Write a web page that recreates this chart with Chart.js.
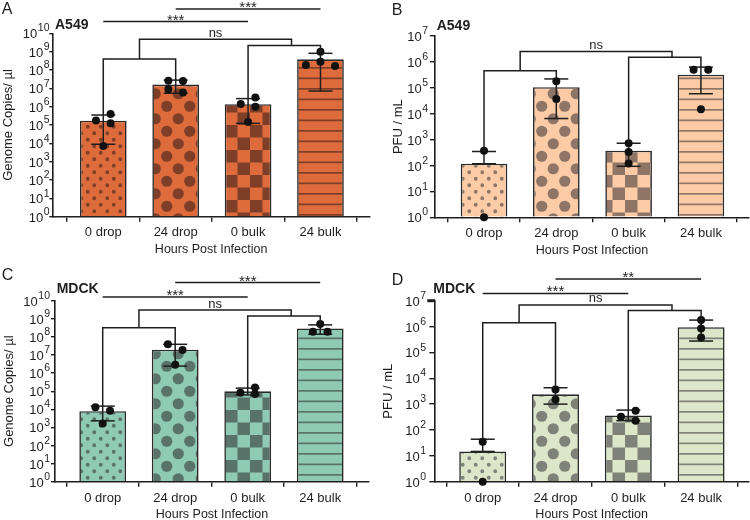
<!DOCTYPE html>
<html>
<head>
<meta charset="utf-8">
<script src="https://cdn.jsdelivr.net/npm/chart.js@4.4.1/dist/chart.umd.min.js"></script>
<style>
    body { margin: 0; background: #fff; }
    #wrap { position: relative; width: 750px; height: 520px; }
    .panel { position: absolute; width: 375px; height: 260px; }
</style>
</head>
<body>
<div id="wrap">
    <div class="panel" style="left:0;top:0"><canvas id="chartA" width="375" height="260"></canvas></div>
    <div class="panel" style="left:375px;top:0"><canvas id="chartB" width="375" height="260"></canvas></div>
    <div class="panel" style="left:0;top:260px"><canvas id="chartC" width="375" height="260"></canvas></div>
    <div class="panel" style="left:375px;top:260px"><canvas id="chartD" width="375" height="260"></canvas></div>
</div>
<script>
'use strict';

let groups = ['0 drop', '24 drop', '0 bulk', '24 bulk'];
let copiesExp = [0, 1, 2, 3, 4, 5, 6, 7, 8, 9, 10];
let pfuExp = [0, 1, 2, 3, 4, 5, 6, 7];

// A549 - genome copies / ul
let a549CopiesMean = [1.7e5, 1.6e7, 1.35e6, 3.8e8];
let a549CopiesLow = [8.9e3, 5.4e6, 1.23e5, 7.1e6];
let a549CopiesHigh = [3.5e5, 2.8e7, 2.75e6, 8.1e8];
let a549CopiesDots = [[4.0e5, 1.74e5, 1.23e5, 7.1e3], [2.5e7, 2.6e7, 6.0e6, 8.9e6], [1.4e6, 3.2e6, 1.0e6, 1.45e5], [1.66e8, 1.0e9, 2.8e8, 1.86e8]];

// A549 - PFU / mL
let a549PfuMean = [117, 1.05e5, 372, 3.2e5];
let a549PfuLow = [117, 6.5e3, 93, 5.9e4];
let a549PfuHigh = [347, 2.2e5, 724, 6.3e5];
let a549PfuDots = [[370, 1], [1.8e5, 3.7e4], [724, 331, 120], [5.0e5, 5.0e5, 1.5e4]];

// MDCK - genome copies / ul
let mdckCopiesMean = [7.8e3, 1.95e7, 9.8e4, 2.95e8];
let mdckCopiesLow = [2.3e3, 2.45e6, 6.2e4, 1.4e8];
let mdckCopiesHigh = [1.5e4, 3.9e7, 1.48e5, 4.6e8];
let mdckCopiesDots = [[1.29e4, 8.3e3, 1.66e3], [3.9e7, 1.86e7, 2.9e6], [1.62e5, 6.9e4, 8.3e4], [5.1e8, 1.95e8, 1.95e8]];

// MDCK - PFU / mL
let mdckPfuMean = [14.8, 2.4e3, 363, 9.5e5];
let mdckPfuLow = [14.8, 1.0e3, 229, 2.75e5];
let mdckPfuHigh = [44, 4.3e3, 589, 1.78e6];
let mdckPfuDots = [[35, 1], [3.7e3, 1.5e3], [550, 324, 229], [1.78e6, 8.5e5, 3.8e5]];

let family = '"Liberation Sans", Arial, Helvetica, sans-serif';
let ink = '#1e1e1e';
Chart.defaults.font.family = family;
Chart.defaults.color = ink;

let panels = [
    {
        id: 'chartA', letter: 'A', letterPos: [1.7, 13.5], cell: 'A549', cellPos: [55, 28.5],
        yTitle: 'Genome Copies/ \u00b5l', yTitleX: 8,
        exps: copiesExp, mean: a549CopiesMean, low: a549CopiesLow, high: a549CopiesHigh, dots: a549CopiesDots,
        base: '#de6b3c', dark: '#7e3e27',
        area: { left: 52.3, top: 33.3, right: 370, bottom: 216.7 }, xMin: -0.704, xMax: 3.684,
        labelRight: 49.5, tickLen: 3, xPad: 3, boldTop: false,
        ns: [8.6, 9.33, 9.67],
        stars: [{ from: 0, to: 2, level: 10.64, text: '***' }, { from: 1, to: 3, level: 11.33, text: '***' }]
    },
    {
        id: 'chartB', letter: 'B', letterPos: [16.7, 15], cell: 'A549', cellPos: [61.7, 30],
        yTitle: 'PFU / mL', yTitleX: 23.5,
        exps: pfuExp, mean: a549PfuMean, low: a549PfuLow, high: a549PfuHigh, dots: a549PfuDots,
        base: '#fdcba6', dark: '#8e7566',
        area: { left: 60, top: 36, right: 374, bottom: 217.3 }, xMin: -0.678, xMax: 3.665,
        labelRight: 53, tickLen: 5, xPad: 3, boldTop: false,
        ns: [5.66, 6.18, 6.40],
        stars: []
    },
    {
        id: 'chartC', letter: 'C', letterPos: [1.7, 20], cell: 'MDCK', cellPos: [56.7, 33.3],
        yTitle: 'Genome Copies/ \u00b5l', yTitleX: 9,
        exps: copiesExp, mean: mdckCopiesMean, low: mdckCopiesLow, high: mdckCopiesHigh, dots: mdckCopiesDots,
        base: '#8fcab4', dark: '#5a736a',
        area: { left: 55, top: 40.7, right: 369, bottom: 221.7 }, xMin: -0.658, xMax: 3.673,
        labelRight: 50, tickLen: 4, xPad: 4, boldTop: false,
        ns: [8.51, 9.15, 9.48],
        stars: [{ from: 0, to: 2, level: 10.2, text: '***' }, { from: 1, to: 3, level: 11.0, text: '***' }]
    },
    {
        id: 'chartD', letter: 'D', letterPos: [16.7, 24.5], cell: 'MDCK', cellPos: [58.3, 33.3],
        yTitle: 'PFU / mL', yTitleX: 13.5,
        exps: pfuExp, mean: mdckPfuMean, low: mdckPfuLow, high: mdckPfuHigh, dots: mdckPfuDots,
        base: '#dce6c9', dark: '#7f8278',
        area: { left: 59.3, top: 40.7, right: 374, bottom: 221.7 }, xMin: -0.665, xMax: 3.658,
        labelRight: 51, tickLen: 5, xPad: 4, boldTop: true,
        ns: [6.15, 6.62, 6.83],
        stars: [{ from: 0, to: 2, level: 7.28, text: '***' }, { from: 1, to: 3, level: 7.84, text: '**' }]
    }
];

function makePattern(kind, base, dark) {
    let tile = document.createElement('canvas');
    let c = tile.getContext('2d');
    let w, h;
    if (kind === 'dots') { w = 13; h = 13; }
    else if (kind === 'circles') { w = 23; h = 25; }
    else if (kind === 'checker') { w = 25; h = 25; }
    else { w = 4; h = 21; }
    tile.width = w;
    tile.height = h;
    c.fillStyle = base;
    c.fillRect(0, 0, w, h);
    c.fillStyle = dark;
    if (kind === 'dots') {
        c.beginPath();
        c.arc(3.25, 3.25, 1.9, 0, Math.PI * 2);
        c.arc(9.75, 9.75, 1.9, 0, Math.PI * 2);
        c.fill();
    } else if (kind === 'circles') {
        c.beginPath();
        c.arc(5.75, 6.25, 5.6, 0, Math.PI * 2);
        c.fill();
        c.beginPath();
        c.arc(17.25, 18.75, 5.6, 0, Math.PI * 2);
        c.fill();
    } else if (kind === 'checker') {
        c.fillRect(0, 0, 12.5, 12.5);
        c.fillRect(12.5, 12.5, 12.5, 12.5);
    } else {
        c.fillRect(0, 4, w, 1.7);
        c.fillRect(0, 14.5, w, 1.7);
    }
    return c.createPattern(tile, 'repeat');
}

// spread the dots of one group sideways so they don't sit on top of each other
function swarm(vals, ys) {
    let S = 7.3;
    let pts = vals.map(v => ({ v: v, py: ys.getPixelForValue(v), dx: 0 }));
    let order = pts.slice().sort((a, b) => a.v - b.v);
    let placed = [];
    function clash(p, dx) {
        return placed.some(q => Math.abs(q.dx - dx) < 2 * S - 0.5 && Math.abs(q.py - p.py) < 6.65);
    }
    let i = 0;
    while (i < order.length) {
        let cl = [order[i]];
        let j = i + 1;
        while (j < order.length && order[i].py - order[j].py < 6.5) {
            cl.push(order[j]);
            j++;
        }
        if (cl.length === 1) {
            let cands = [0, S, -S, 2 * S, -2 * S, 3 * S, -3 * S];
            let found = cands.find(dx => !clash(cl[0], dx));
            cl[0].dx = found === undefined ? 0 : found;
        } else {
            cl.sort((a, b) => b.v - a.v);
            let n = cl.length;
            let slots = n === 3 ? [0, -2 * S, 2 * S] : cl.map((p, k) => (k - (n - 1) / 2) * 2 * S);
            cl.forEach((p, k) => { p.dx = slots[k]; });
        }
        placed.push(...cl);
        i = j;
    }
    return pts;
}

function line(ctx, pts) {
    ctx.beginPath();
    ctx.moveTo(pts[0][0], pts[0][1]);
    for (let k = 1; k < pts.length; k++) ctx.lineTo(pts[k][0], pts[k][1]);
    ctx.stroke();
}

function makeExtras(p) {
    return {
        id: 'extras',
        afterDraw(chart) {
            let ctx = chart.ctx;
            let xs = chart.scales.x;
            let ys = chart.scales.y;
            let area = chart.chartArea;
            let px = i => xs.getPixelForValue(i);
            let py = e => ys.getPixelForValue(Math.pow(10, e));
            ctx.save();
            ctx.strokeStyle = ink;
            ctx.fillStyle = ink;
            ctx.lineWidth = 1.5;
            ctx.lineCap = 'butt';

            // error bars
            for (let i = 0; i < groups.length; i++) {
                let x = px(i);
                let yh = ys.getPixelForValue(p.high[i]);
                let yl = ys.getPixelForValue(p.low[i]);
                line(ctx, [[x, yl], [x, yh]]);
                line(ctx, [[x - 12, yh], [x + 12, yh]]);
                line(ctx, [[x - 12, yl], [x + 12, yl]]);
            }

            // replicate dots
            ctx.fillStyle = '#111';
            for (let i = 0; i < groups.length; i++) {
                let x = px(i);
                swarm(p.dots[i], ys).forEach(d => {
                    ctx.beginPath();
                    ctx.arc(x + d.dx, d.py, 4, 0, Math.PI * 2);
                    ctx.fill();
                });
            }
            ctx.fillStyle = ink;

            // ns bracket
            let topOf = i => ys.getPixelForValue(p.high[i]);
            let yL = py(p.ns[0]);
            let yR = py(p.ns[1]);
            let yT = py(p.ns[2]);
            line(ctx, [[px(0), topOf(0)], [px(0), yL], [px(1), yL], [px(1), topOf(1)]]);
            line(ctx, [[px(2), topOf(2)], [px(2), yR], [px(3), yR], [px(3), topOf(3)]]);
            let cL = px(0) + 0.5 * (px(1) - px(0));
            let cR = px(2) + 0.6 * (px(3) - px(2));
            line(ctx, [[cL, yL], [cL, yT], [cR, yT], [cR, yR]]);
            ctx.font = '13px ' + family;
            ctx.textAlign = 'center';
            ctx.textBaseline = 'alphabetic';
            ctx.fillText('ns', (cL + cR) / 2, yT - 2.6);

            // significance lines
            p.stars.forEach(s => {
                let y = py(s.level);
                line(ctx, [[px(s.from), y], [px(s.to), y]]);
                ctx.font = '15px ' + family;
                ctx.fillText(s.text, (px(s.from) + px(s.to)) / 2, y + 3);
            });

            // heavy top tick
            if (p.boldTop) {
                ctx.lineWidth = 3;
                let yt = py(p.exps[p.exps.length - 1]);
                line(ctx, [[area.left - 7, yt], [area.left + 0.8, yt]]);
                ctx.lineWidth = 1.5;
            }

            // y tick labels 10^n
            ctx.textAlign = 'left';
            ctx.textBaseline = 'middle';
            p.exps.forEach(e => {
                let y = py(e);
                ctx.font = '13px ' + family;
                let w1 = ctx.measureText('10').width;
                ctx.font = '10.5px ' + family;
                let w2 = ctx.measureText(String(e)).width;
                let left = p.labelRight - w1 - w2 - 0.5;
                ctx.font = '13px ' + family;
                ctx.fillText('10', left, y + 1.5);
                ctx.font = '10.5px ' + family;
                ctx.fillText(String(e), left + w1 + 0.5, y - 4.7);
            });

            // axis titles
            ctx.font = '12.5px ' + family;
            ctx.textAlign = 'center';
            ctx.fillText('Hours Post Infection', (area.left + area.right) / 2, area.bottom + 33.3);
            ctx.save();
            ctx.translate(p.yTitleX, (area.top + area.bottom) / 2);
            ctx.rotate(-Math.PI / 2);
            ctx.font = '13px ' + family;
            ctx.fillText(p.yTitle, 0, 0);
            ctx.restore();

            // panel letter and cell line
            ctx.textAlign = 'left';
            ctx.textBaseline = 'alphabetic';
            ctx.font = '16px ' + family;
            ctx.fillText(p.letter, p.letterPos[0], p.letterPos[1]);
            ctx.font = 'bold 14px ' + family;
            ctx.fillText(p.cell, p.cellPos[0], p.cellPos[1]);
            ctx.restore();
        }
    };
}

panels.forEach(p => {
    let fills = [
        makePattern('dots', p.base, p.dark),
        makePattern('circles', p.base, p.dark),
        makePattern('checker', p.base, p.dark),
        makePattern('stripes', p.base, p.dark)
    ];
    let ctx = document.getElementById(p.id).getContext('2d');
    new Chart(ctx, {
        type: 'bar',
        data: {
            datasets: [{
                data: p.mean.map((v, i) => ({ x: i, y: v })),
                backgroundColor: fills,
                borderColor: '#2b2b2b',
                borderWidth: 1.6,
                borderSkipped: 'start',
                base: 1,
                categoryPercentage: 1,
                barPercentage: 0.645
            }]
        },
        options: {
            responsive: false,
            animation: false,
            layout: { padding: { left: 0, top: p.area.top, right: 375 - p.area.right, bottom: 0 } },
            plugins: { legend: { display: false }, tooltip: { enabled: false } },
            scales: {
                x: {
                    type: 'linear',
                    min: p.xMin,
                    max: p.xMax,
                    offset: false,
                    bounds: 'data',
                    afterBuildTicks: s => { s.ticks = groups.map((g, i) => ({ value: i })); },
                    afterFit: s => { s.height = 260 - p.area.bottom; },
                    grid: { drawOnChartArea: false, drawTicks: true, tickLength: 5, color: ink, lineWidth: 1.4 },
                    border: { display: true, color: ink, width: 1.6, z: 1 },
                    ticks: {
                        callback: v => groups[v],
                        font: { size: 13 },
                        color: ink,
                        padding: p.xPad,
                        autoSkip: false,
                        maxRotation: 0
                    }
                },
                y: {
                    type: 'logarithmic',
                    min: 1,
                    max: Math.pow(10, p.exps[p.exps.length - 1]),
                    afterBuildTicks: s => { s.ticks = p.exps.map(e => ({ value: Math.pow(10, e) })); },
                    afterFit: s => { s.width = p.area.left; },
                    grid: { drawOnChartArea: false, drawTicks: true, tickLength: p.tickLen, color: ink, lineWidth: 1.4 },
                    border: { display: true, color: ink, width: 1.6, z: 1 },
                    ticks: { display: false }
                }
            }
        },
        plugins: [makeExtras(p)]
    });
});
</script>
</body>
</html>
